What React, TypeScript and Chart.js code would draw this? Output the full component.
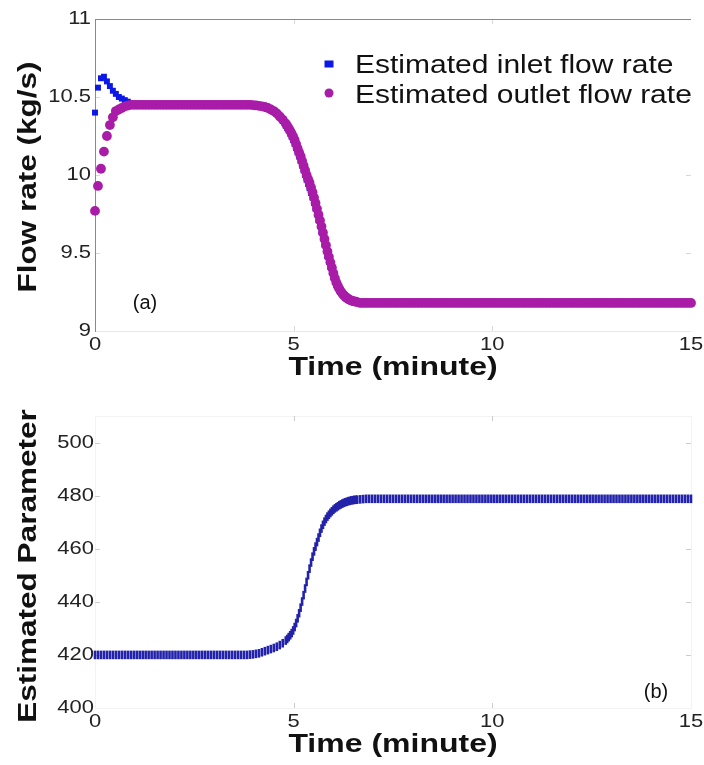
import React, { useEffect, useRef } from "react";
import { Chart, registerables } from "chart.js";

Chart.register(...registerables);

// ---------------- data ----------------
// sample times (minutes); the transient 4.8–6.6 min is sampled twice as densely
const timeMinutes = [
  0, 0.075, 0.15, 0.225, 0.3, 0.375, 0.45, 0.525,
  0.6, 0.675, 0.75, 0.825, 0.9, 0.975, 1.05, 1.125,
  1.2, 1.275, 1.35, 1.425, 1.5, 1.575, 1.65, 1.725,
  1.8, 1.875, 1.95, 2.025, 2.1, 2.175, 2.25, 2.325,
  2.4, 2.475, 2.55, 2.625, 2.7, 2.775, 2.85, 2.925,
  3, 3.075, 3.15, 3.225, 3.3, 3.375, 3.45, 3.525,
  3.6, 3.675, 3.75, 3.825, 3.9, 3.975, 4.05, 4.125,
  4.2, 4.275, 4.35, 4.425, 4.5, 4.575, 4.65, 4.725,
  4.8, 4.8375, 4.875, 4.9125, 4.95, 4.9875, 5.025, 5.0625, 5.1, 5.1375, 5.175, 5.2125, 5.25, 5.2875, 5.325, 5.3625,
  5.4, 5.4375, 5.475, 5.5125, 5.55, 5.5875, 5.625, 5.6625, 5.7, 5.7375, 5.775, 5.8125, 5.85, 5.8875, 5.925, 5.9625,
  6, 6.0375, 6.075, 6.1125, 6.15, 6.1875, 6.225, 6.2625, 6.3, 6.3375, 6.375, 6.4125, 6.45, 6.4875, 6.525, 6.5625,
  6.6, 6.675, 6.75, 6.825, 6.9, 6.975, 7.05, 7.125,
  7.2, 7.275, 7.35, 7.425, 7.5, 7.575, 7.65, 7.725,
  7.8, 7.875, 7.95, 8.025, 8.1, 8.175, 8.25, 8.325,
  8.4, 8.475, 8.55, 8.625, 8.7, 8.775, 8.85, 8.925,
  9, 9.075, 9.15, 9.225, 9.3, 9.375, 9.45, 9.525,
  9.6, 9.675, 9.75, 9.825, 9.9, 9.975, 10.05, 10.125,
  10.2, 10.275, 10.35, 10.425, 10.5, 10.575, 10.65, 10.725,
  10.8, 10.875, 10.95, 11.025, 11.1, 11.175, 11.25, 11.325,
  11.4, 11.475, 11.55, 11.625, 11.7, 11.775, 11.85, 11.925,
  12, 12.075, 12.15, 12.225, 12.3, 12.375, 12.45, 12.525,
  12.6, 12.675, 12.75, 12.825, 12.9, 12.975, 13.05, 13.125,
  13.2, 13.275, 13.35, 13.425, 13.5, 13.575, 13.65, 13.725,
  13.8, 13.875, 13.95, 14.025, 14.1, 14.175, 14.25, 14.325,
  14.4, 14.475, 14.55, 14.625, 14.7, 14.775, 14.85, 14.925,
  15,
];

const inletFlow = [
  10.4, 10.56, 10.62, 10.63, 10.6, 10.57, 10.54, 10.52,
  10.5, 10.49, 10.48, 10.47, 10.46, 10.455, 10.45, 10.45,
  10.45, 10.45, 10.45, 10.45, 10.45, 10.45, 10.45, 10.45,
  10.45, 10.45, 10.45, 10.45, 10.45, 10.45, 10.45, 10.45,
  10.45, 10.45, 10.45, 10.45, 10.45, 10.45, 10.45, 10.45,
  10.45, 10.45, 10.45, 10.45, 10.45, 10.45, 10.45, 10.45,
  10.45, 10.45, 10.45, 10.45, 10.45, 10.448, 10.446, 10.443,
  10.44, 10.435, 10.428, 10.418, 10.405, 10.39, 10.37, 10.345,
  10.315, 10.3, 10.285, 10.265, 10.245, 10.223, 10.2, 10.173, 10.145, 10.118, 10.09, 10.06, 10.03, 10.0, 9.97, 9.943,
  9.915, 9.885, 9.855, 9.82, 9.785, 9.748, 9.71, 9.673, 9.635, 9.595, 9.555, 9.518, 9.48, 9.445, 9.41, 9.378,
  9.345, 9.318, 9.295, 9.277, 9.26, 9.247, 9.235, 9.225, 9.215, 9.207, 9.2, 9.195, 9.19, 9.187, 9.185, 9.182,
  9.18, 9.18, 9.18, 9.18, 9.18, 9.18, 9.18, 9.18,
  9.18, 9.18, 9.18, 9.18, 9.18, 9.18, 9.18, 9.18,
  9.18, 9.18, 9.18, 9.18, 9.18, 9.18, 9.18, 9.18,
  9.18, 9.18, 9.18, 9.18, 9.18, 9.18, 9.18, 9.18,
  9.18, 9.18, 9.18, 9.18, 9.18, 9.18, 9.18, 9.18,
  9.18, 9.18, 9.18, 9.18, 9.18, 9.18, 9.18, 9.18,
  9.18, 9.18, 9.18, 9.18, 9.18, 9.18, 9.18, 9.18,
  9.18, 9.18, 9.18, 9.18, 9.18, 9.18, 9.18, 9.18,
  9.18, 9.18, 9.18, 9.18, 9.18, 9.18, 9.18, 9.18,
  9.18, 9.18, 9.18, 9.18, 9.18, 9.18, 9.18, 9.18,
  9.18, 9.18, 9.18, 9.18, 9.18, 9.18, 9.18, 9.18,
  9.18, 9.18, 9.18, 9.18, 9.18, 9.18, 9.18, 9.18,
  9.18, 9.18, 9.18, 9.18, 9.18, 9.18, 9.18, 9.18,
  9.18, 9.18, 9.18, 9.18, 9.18, 9.18, 9.18, 9.18,
  9.18,
];

const outletFlow = [
  9.77, 9.93, 10.04, 10.15, 10.25, 10.32, 10.37, 10.41,
  10.42, 10.43, 10.44, 10.445, 10.45, 10.45, 10.45, 10.45,
  10.45, 10.45, 10.45, 10.45, 10.45, 10.45, 10.45, 10.45,
  10.45, 10.45, 10.45, 10.45, 10.45, 10.45, 10.45, 10.45,
  10.45, 10.45, 10.45, 10.45, 10.45, 10.45, 10.45, 10.45,
  10.45, 10.45, 10.45, 10.45, 10.45, 10.45, 10.45, 10.45,
  10.45, 10.45, 10.45, 10.45, 10.45, 10.448, 10.446, 10.443,
  10.44, 10.436, 10.43, 10.42, 10.41, 10.395, 10.375, 10.355,
  10.33, 10.315, 10.3, 10.283, 10.265, 10.245, 10.225, 10.198, 10.17, 10.145, 10.12, 10.09, 10.06, 10.03, 10.0, 9.975,
  9.95, 9.92, 9.89, 9.855, 9.82, 9.783, 9.745, 9.708, 9.67, 9.63, 9.59, 9.55, 9.51, 9.475, 9.44, 9.405,
  9.37, 9.338, 9.31, 9.288, 9.27, 9.254, 9.24, 9.229, 9.22, 9.212, 9.205, 9.2, 9.195, 9.192, 9.19, 9.188,
  9.185, 9.18, 9.18, 9.18, 9.18, 9.18, 9.18, 9.18,
  9.18, 9.18, 9.18, 9.18, 9.18, 9.18, 9.18, 9.18,
  9.18, 9.18, 9.18, 9.18, 9.18, 9.18, 9.18, 9.18,
  9.18, 9.18, 9.18, 9.18, 9.18, 9.18, 9.18, 9.18,
  9.18, 9.18, 9.18, 9.18, 9.18, 9.18, 9.18, 9.18,
  9.18, 9.18, 9.18, 9.18, 9.18, 9.18, 9.18, 9.18,
  9.18, 9.18, 9.18, 9.18, 9.18, 9.18, 9.18, 9.18,
  9.18, 9.18, 9.18, 9.18, 9.18, 9.18, 9.18, 9.18,
  9.18, 9.18, 9.18, 9.18, 9.18, 9.18, 9.18, 9.18,
  9.18, 9.18, 9.18, 9.18, 9.18, 9.18, 9.18, 9.18,
  9.18, 9.18, 9.18, 9.18, 9.18, 9.18, 9.18, 9.18,
  9.18, 9.18, 9.18, 9.18, 9.18, 9.18, 9.18, 9.18,
  9.18, 9.18, 9.18, 9.18, 9.18, 9.18, 9.18, 9.18,
  9.18, 9.18, 9.18, 9.18, 9.18, 9.18, 9.18, 9.18,
  9.18,
];

const estimatedParameter = [
  420, 420, 420, 420, 420, 420, 420, 420,
  420, 420, 420, 420, 420, 420, 420, 420,
  420, 420, 420, 420, 420, 420, 420, 420,
  420, 420, 420, 420, 420, 420, 420, 420,
  420, 420, 420, 420, 420, 420, 420, 420,
  420, 420, 420, 420, 420, 420, 420, 420,
  420, 420, 420, 420, 420.1, 420.2, 420.4, 420.6,
  421, 421.4, 421.8, 422.2, 422.6, 423.1, 423.7, 424.4,
  425.4, 426, 426.7, 427.4, 428.2, 429.2, 430.5, 432, 433.8, 435.7, 437.8, 440.1, 442.5, 445, 447.5, 450,
  452.5, 454.8, 457, 459, 460.8, 462.5, 464.2, 466, 467.6, 469, 470.2, 471.2, 472.1, 472.8, 473.5, 474.1,
  474.7, 475.2, 475.6, 476, 476.4, 476.7, 477, 477.3, 477.5, 477.7, 477.9, 478.05, 478.2, 478.3, 478.4, 478.45,
  478.5, 478.6, 478.7, 478.8, 478.8, 478.8, 478.8, 478.8,
  478.8, 478.8, 478.8, 478.8, 478.8, 478.8, 478.8, 478.8,
  478.8, 478.8, 478.8, 478.8, 478.8, 478.8, 478.8, 478.8,
  478.8, 478.8, 478.8, 478.8, 478.8, 478.8, 478.8, 478.8,
  478.8, 478.8, 478.8, 478.8, 478.8, 478.8, 478.8, 478.8,
  478.8, 478.8, 478.8, 478.8, 478.8, 478.8, 478.8, 478.8,
  478.8, 478.8, 478.8, 478.8, 478.8, 478.8, 478.8, 478.8,
  478.8, 478.8, 478.8, 478.8, 478.8, 478.8, 478.8, 478.8,
  478.8, 478.8, 478.8, 478.8, 478.8, 478.8, 478.8, 478.8,
  478.8, 478.8, 478.8, 478.8, 478.8, 478.8, 478.8, 478.8,
  478.8, 478.8, 478.8, 478.8, 478.8, 478.8, 478.8, 478.8,
  478.8, 478.8, 478.8, 478.8, 478.8, 478.8, 478.8, 478.8,
  478.8, 478.8, 478.8, 478.8, 478.8, 478.8, 478.8, 478.8,
  478.8, 478.8, 478.8, 478.8, 478.8, 478.8, 478.8, 478.8,
  478.8,
];

const timeTicks = [0, 5, 10, 15];
const flowTicks = [9, 9.5, 10, 10.5, 11];
const paramTicks = [400, 420, 440, 460, 480, 500];

const TIME_TITLE = "Time (minute)";
const FLOW_TITLE = "Flow rate (kg/s)";
const PARAM_TITLE = "Estimated Parameter";
const INLET_LABEL = "Estimated inlet flow rate";
const OUTLET_LABEL = "Estimated outlet flow rate";

// ---------------- styles ----------------
const FONT = '"Liberation Sans", Arial, Helvetica, sans-serif';
const PURPLE = "#a81ca8";
const INLET_BLUE = "#0c18e6";
const PARAM_BLUE = "#2222aa";
const TICK_COLOR = "#222";
const STRETCH = 1.22;

type TextOpts = {
  size: number;
  weight?: string;
  align?: CanvasTextAlign;
  baseline?: CanvasTextBaseline;
  stretch?: number;
  rotate?: boolean;
  color?: string;
};

function drawText(ctx: CanvasRenderingContext2D, text: string, x: number, y: number, o: TextOpts) {
  ctx.save();
  ctx.translate(x, y);
  if (o.rotate) ctx.rotate(-Math.PI / 2);
  ctx.scale(o.stretch ?? 1, 1);
  ctx.font = `${o.weight ?? "normal"} ${o.size}px ${FONT}`;
  ctx.fillStyle = o.color ?? "#111";
  ctx.textAlign = o.align ?? "left";
  ctx.textBaseline = o.baseline ?? "alphabetic";
  ctx.fillText(text, 0, 0);
  ctx.restore();
}

function seg(ctx: CanvasRenderingContext2D, x1: number, y1: number, x2: number, y2: number) {
  ctx.beginPath();
  ctx.moveTo(x1, y1);
  ctx.lineTo(x2, y2);
  ctx.stroke();
}

function pts(values: number[]) {
  return timeMinutes.map((t, i) => ({ x: t, y: values[i] }));
}

function inwardTicks(chart: any, color: string) {
  const { ctx, chartArea: a, scales } = chart;
  const xs = scales.x;
  const ys = scales.y;
  ctx.save();
  ctx.strokeStyle = color;
  ctx.lineWidth = 1;
  xs.ticks.forEach((t: any) => {
    const px = Math.round(xs.getPixelForValue(t.value)) + 0.5;
    if (px <= a.left + 1 || px >= a.right - 1) return;
    seg(ctx, px, a.top, px, a.top + 5);
    seg(ctx, px, a.bottom, px, a.bottom - 5);
  });
  ys.ticks.forEach((t: any) => {
    const py = Math.round(ys.getPixelForValue(t.value)) + 0.5;
    if (py <= a.top + 1 || py >= a.bottom - 1) return;
    seg(ctx, a.left, py, a.left + 5, py);
    seg(ctx, a.right, py, a.right - 5, py);
  });
  ctx.restore();
}

function drawTickLabels(chart: any, yGap: number) {
  const { ctx, chartArea: a, scales } = chart;
  const xs = scales.x;
  const ys = scales.y;
  ys.ticks.forEach((t: any) => {
    drawText(ctx, String(t.value), a.left - yGap, ys.getPixelForValue(t.value), {
      size: 18, align: "right", baseline: "middle", stretch: STRETCH, color: TICK_COLOR,
    });
  });
  xs.ticks.forEach((t: any) => {
    drawText(ctx, String(t.value), xs.getPixelForValue(t.value), a.bottom + 14, {
      size: 18, align: "center", baseline: "middle", stretch: STRETCH, color: TICK_COLOR,
    });
  });
}

const flowPanelPlugin = {
  id: "flowPanel",
  beforeDatasetsDraw(chart: any) {
    const { ctx, chartArea: a } = chart;
    inwardTicks(chart, "#d8d8d8");
    ctx.save();
    ctx.lineWidth = 1;
    ctx.strokeStyle = "#e8e8e8";
    seg(ctx, a.left, a.bottom + 0.5, a.right, a.bottom + 0.5);
    ctx.strokeStyle = "#8a8a8a";
    seg(ctx, a.left + 0.5, a.top, a.left + 0.5, a.bottom + 1);
    seg(ctx, a.left, a.top + 0.5, a.right, a.top + 0.5);
    ctx.restore();
  },
  afterDraw(chart: any) {
    const { ctx, chartArea: a } = chart;
    drawTickLabels(chart, 4);
    drawText(ctx, TIME_TITLE, (a.left + a.right) / 2, a.bottom + 44, {
      size: 25, weight: "bold", align: "center", stretch: 1.28,
    });
    drawText(ctx, FLOW_TITLE, 29, (a.top + a.bottom) / 2 + 2, {
      size: 25, weight: "bold", align: "center", baseline: "middle", rotate: true, stretch: 1.26,
    });
    // legend
    const textX = a.right - 336;
    const markerX = a.right - 362;
    ctx.save();
    ctx.fillStyle = INLET_BLUE;
    ctx.fillRect(markerX - 4.5, a.top + 45 - 3.5, 9, 7);
    ctx.fillStyle = PURPLE;
    ctx.beginPath();
    ctx.arc(markerX, a.top + 74, 4.5, 0, Math.PI * 2);
    ctx.fill();
    ctx.restore();
    drawText(ctx, INLET_LABEL, textX, a.top + 54, { size: 25, stretch: 1.2 });
    drawText(ctx, OUTLET_LABEL, textX, a.top + 84, { size: 25, stretch: 1.2 });
    drawText(ctx, "(a)", a.left + 50, a.top + 290, { size: 20, align: "center" });
  },
};

const paramPanelPlugin = {
  id: "paramPanel",
  beforeDatasetsDraw(chart: any) {
    const { ctx, chartArea: a } = chart;
    ctx.save();
    ctx.lineWidth = 1;
    ctx.strokeStyle = "#f3f3f3";
    ctx.strokeRect(a.left + 0.5, a.top + 0.5, a.right - a.left, a.bottom - a.top);
    ctx.restore();
    inwardTicks(chart, "#cccccc");
  },
  afterDraw(chart: any) {
    const { ctx, chartArea: a } = chart;
    drawTickLabels(chart, 1);
    drawText(ctx, TIME_TITLE, (a.left + a.right) / 2, a.bottom + 44, {
      size: 25, weight: "bold", align: "center", stretch: 1.28,
    });
    drawText(ctx, PARAM_TITLE, 29, (a.top + a.bottom) / 2 + 4, {
      size: 25, weight: "bold", align: "center", baseline: "middle", rotate: true, stretch: 1.26,
    });
    drawText(ctx, "(b)", a.right - 35, a.bottom - 10, { size: 20, align: "center" });
  },
};

function baseOptions(opts: {
  padTop: number; padRight: number; xHeight: number; yWidth: number;
  yMin: number; yMax: number; yTicks: number[];
}) {
  return {
    animation: false as const,
    responsive: false,
    events: [] as any[],
    layout: { padding: { top: opts.padTop, right: opts.padRight, left: 0, bottom: 0 } },
    plugins: { legend: { display: false }, tooltip: { enabled: false }, title: { display: false } },
    scales: {
      x: {
        type: "linear" as const,
        min: 0,
        max: 15,
        grid: { display: false },
        border: { display: false },
        ticks: { display: false },
        afterBuildTicks: (s: any) => { s.ticks = timeTicks.map((v) => ({ value: v })); },
        afterFit: (s: any) => { s.height = opts.xHeight; },
      },
      y: {
        type: "linear" as const,
        min: opts.yMin,
        max: opts.yMax,
        grid: { display: false },
        border: { display: false },
        ticks: { display: false },
        afterBuildTicks: (s: any) => { s.ticks = opts.yTicks.map((v) => ({ value: v })); },
        afterFit: (s: any) => { s.width = opts.yWidth; },
      },
    },
  };
}

export default function App() {
  const topRef = useRef<HTMLCanvasElement | null>(null);
  const botRef = useRef<HTMLCanvasElement | null>(null);

  useEffect(() => {
    if (!topRef.current || !botRef.current) return;
    const top = new Chart(topRef.current, {
      type: "scatter",
      data: {
        datasets: [
          {
            label: INLET_LABEL,
            data: pts(inletFlow),
            pointStyle: "rect",
            pointRadius: 4.2,
            pointBorderWidth: 0,
            backgroundColor: INLET_BLUE,
            borderColor: INLET_BLUE,
            showLine: false,
            clip: false,
            order: 1,
          },
          {
            label: OUTLET_LABEL,
            data: pts(outletFlow),
            pointStyle: "circle",
            pointRadius: 4.9,
            pointBorderWidth: 0,
            backgroundColor: PURPLE,
            borderColor: PURPLE,
            showLine: false,
            clip: false,
            order: 0,
          },
        ],
      },
      options: baseOptions({ padTop: 19, padRight: 13, xHeight: 49, yWidth: 95, yMin: 9, yMax: 11, yTicks: flowTicks }) as any,
      plugins: [flowPanelPlugin],
    });
    const bot = new Chart(botRef.current, {
      type: "scatter",
      data: {
        datasets: [
          {
            label: PARAM_TITLE,
            data: pts(estimatedParameter),
            pointStyle: "line",
            pointRotation: 90,
            pointRadius: 4.3,
            pointBorderWidth: 2.6,
            backgroundColor: PARAM_BLUE,
            borderColor: PARAM_BLUE,
            showLine: false,
            clip: false,
          },
        ],
      },
      options: baseOptions({ padTop: 36, padRight: 13, xHeight: 57, yWidth: 95, yMin: 400, yMax: 510, yTicks: paramTicks }) as any,
      plugins: [paramPanelPlugin],
    });
    return () => {
      top.destroy();
      bot.destroy();
    };
  }, []);

  return (
    <div style={{ position: "fixed", left: 0, top: 0, width: 704, height: 765, background: "#fff" }}>
      <canvas ref={topRef} width={704} height={380} style={{ position: "absolute", left: 0, top: 0 }} />
      <canvas ref={botRef} width={704} height={385} style={{ position: "absolute", left: 0, top: 380 }} />
    </div>
  );
}
